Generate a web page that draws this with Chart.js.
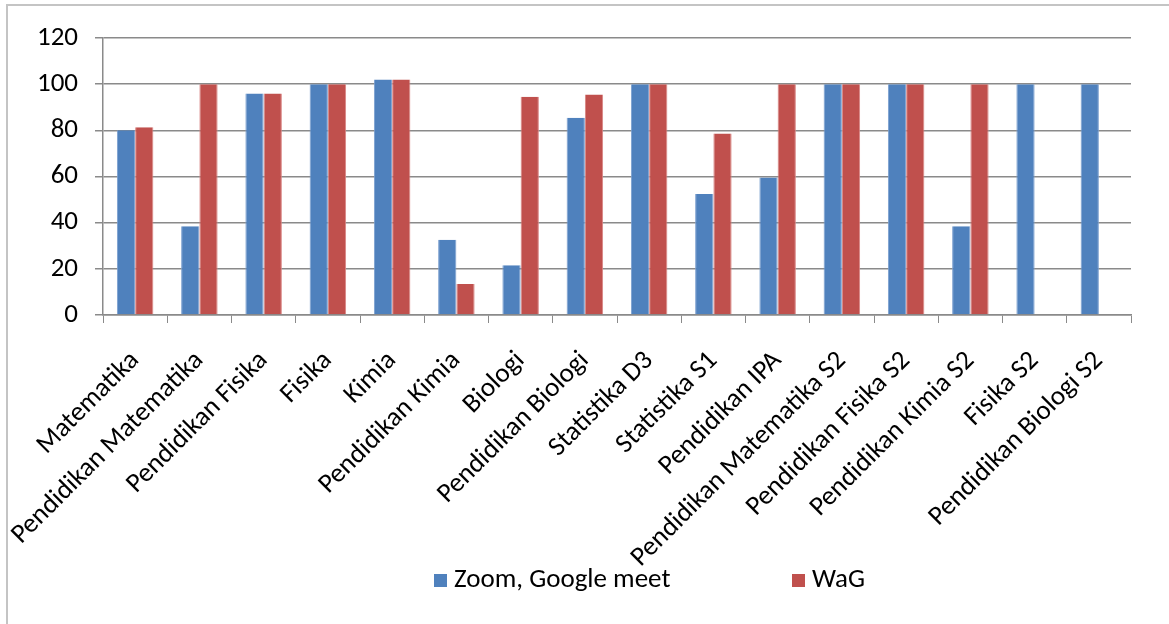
<!DOCTYPE html>
<html>
<head>
<meta charset="utf-8">
<script src="https://cdn.jsdelivr.net/npm/chart.js@4"></script>
<style>
    html, body { margin: 0; padding: 0; background: #fff; overflow: hidden; }
    #wrap { position: relative; width: 1169px; height: 624px; }
    #frame { position: absolute; left: 6px; top: 4px; width: 1300px; height: 800px; border-left: 2px solid #c4c4c4; border-top: 2px solid #c4c4c4; }
    canvas { position: absolute; left: 0; top: 0; }
</style>
</head>
<body>
<div id="wrap">
    <div id="frame"></div>
    <canvas id="chart" width="1169" height="624"></canvas>
</div>
<script>
// Data
const categories = [
    'Matematika', 'Pendidikan Matematika', 'Pendidikan Fisika', 'Fisika', 'Kimia',
    'Pendidikan Kimia', 'Biologi', 'Pendidikan Biologi', 'Statistika D3', 'Statistika S1',
    'Pendidikan IPA', 'Pendidikan Matematika S2', 'Pendidikan Fisika S2', 'Pendidikan Kimia S2',
    'Fisika S2', 'Pendidikan Biologi S2'
];
const zoomMeet = [80, 38.5, 96, 100, 102, 32.6, 21.6, 85.5, 100, 52.4, 59.6, 100, 100, 38.5, 100, 100];
const wag = [81.3, 100, 96, 100, 102, 13.4, 94.6, 95.5, 100, 78.6, 100, 100, 100, 100, null, null];
const seriesNames = ['Zoom, Google meet', 'WaG'];
const yTicks = { min: 0, max: 120, step: 20 };

const FONT = "Carlito, Calibri, Lato, sans-serif";
const FONT_SIZE = 27;
const colors = ['#4F81BD', '#C0504D'];
const gridColor = '#8a8a8a';

// legend drawn under the plot, items placed like the original
const legendPlugin = {
    id: 'bottomLegend',
    afterDraw(chart) {
        const ctx = chart.ctx;
        const items = chart.data.datasets.map(ds => ({ text: ds.label, color: ds.backgroundColor }));
        const y = 580;
        const xs = [434, 792];
        ctx.save();
        ctx.font = FONT_SIZE + 'px ' + FONT;
        ctx.textBaseline = 'middle';
        items.forEach((it, i) => {
            ctx.fillStyle = it.color;
            ctx.fillRect(xs[i], y - 6, 13, 13);
            ctx.fillStyle = '#000';
            ctx.fillText(it.text, xs[i] + 20, y);
        });
        ctx.restore();
    }
};

new Chart(document.getElementById('chart'), {
    type: 'bar',
    data: {
        labels: categories,
        datasets: [
            { label: seriesNames[0], data: zoomMeet, backgroundColor: colors[0], borderColor: '#7a9fcf', borderWidth: { left: 1, right: 1, top: 0, bottom: 0 } },
            { label: seriesNames[1], data: wag, backgroundColor: colors[1], borderColor: '#d98583', borderWidth: { left: 1, right: 1, top: 0, bottom: 0 } }
        ]
    },
    options: {
        responsive: false,
        devicePixelRatio: 1,
        animation: false,
        layout: { padding: { left: 0, top: 38, right: 38, bottom: 0 } },
        datasets: { bar: { categoryPercentage: 0.568, barPercentage: 1 } },
        plugins: {
            legend: { display: false },
            tooltip: { enabled: false }
        },
        scales: {
            x: {
                afterFit: s => { s.height = 309; },
                grid: { display: true, drawOnChartArea: false, drawTicks: true, tickLength: 8, color: gridColor, offset: true },
                border: { display: true, color: gridColor, width: 1.5 },
                ticks: {
                    autoSkip: false, minRotation: 45, maxRotation: 45,
                    color: '#000', padding: 22,
                    font: { family: FONT, size: FONT_SIZE }
                }
            },
            y: {
                min: yTicks.min, max: yTicks.max,
                afterFit: s => { s.width = 103; },
                grid: { color: gridColor, lineWidth: 1.5, tickLength: 8 },
                border: { display: true, color: gridColor, width: 1.5 },
                ticks: {
                    stepSize: yTicks.step, color: '#000', padding: 17,
                    font: { family: FONT, size: FONT_SIZE }
                }
            }
        }
    },
    plugins: [legendPlugin]
});
</script>
</body>
</html>
